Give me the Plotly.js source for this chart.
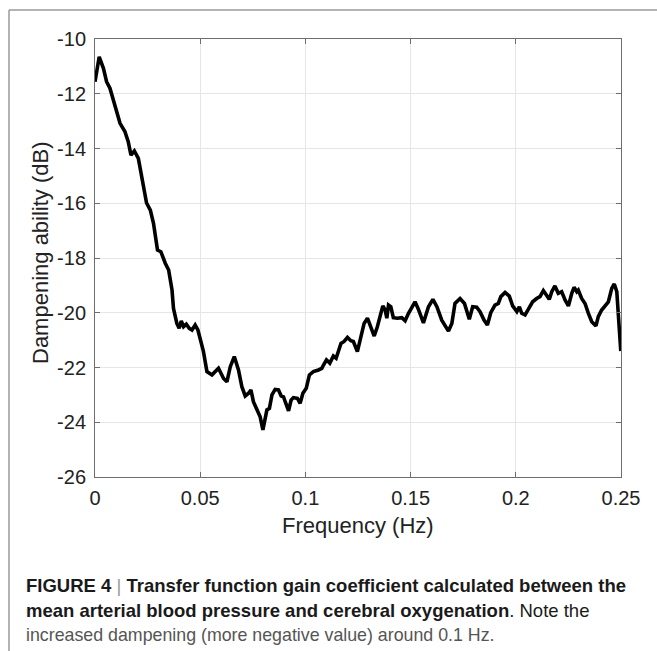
<!DOCTYPE html>
<html>
<head>
<meta charset="utf-8">
<script src="https://cdn.plot.ly/plotly-3.0.1.min.js"></script>
<style>html,body{margin:0;padding:0;background:#fff;}#chart{width:657px;height:651px;}</style>
</head>
<body>
<div id="chart"></div>
<script>
const freqHz = [0.000,0.002,0.004,0.0055,0.0071,0.0095,0.0119,0.0142,0.0158,0.0171,0.0187,0.0206,0.0221,0.0245,0.0263,0.0278,0.0297,0.0313,0.0334,0.0350,0.0366,0.0373,0.0389,0.0400,0.0410,0.0421,0.0434,0.0448,0.0461,0.0476,0.0489,0.0500,0.0515,0.0532,0.0556,0.0587,0.0611,0.0627,0.0643,0.0662,0.0682,0.0698,0.0714,0.0730,0.0741,0.0753,0.0769,0.0785,0.0798,0.0809,0.0817,0.0829,0.0841,0.0856,0.0872,0.0885,0.0896,0.0904,0.0920,0.0932,0.0943,0.0962,0.0975,0.0988,0.1004,0.1019,0.1038,0.1062,0.1078,0.1086,0.1100,0.1116,0.1133,0.1146,0.1157,0.1169,0.1184,0.1200,0.1216,0.1228,0.1247,0.1264,0.1279,0.1295,0.1311,0.1327,0.1342,0.1358,0.1368,0.1379,0.1387,0.1395,0.1406,0.1418,0.1437,0.1458,0.1474,0.1490,0.1506,0.1521,0.1537,0.1561,0.1585,0.1606,0.1625,0.1648,0.1680,0.1696,0.1711,0.1735,0.1756,0.1779,0.1795,0.1814,0.1830,0.1849,0.1865,0.1881,0.1901,0.1917,0.1929,0.1949,0.1969,0.1985,0.2005,0.2017,0.2028,0.2044,0.2060,0.2080,0.2099,0.2115,0.2131,0.2147,0.2159,0.2171,0.2186,0.2202,0.2218,0.2234,0.2250,0.2266,0.2277,0.2290,0.2297,0.2313,0.2329,0.2345,0.2361,0.2381,0.2392,0.2408,0.2429,0.2440,0.2456,0.2468,0.2480,0.2487,0.2499];
const gainDb = [-11.56,-10.65,-11.07,-11.56,-11.80,-12.41,-13.08,-13.38,-13.75,-14.24,-14.09,-14.36,-14.97,-15.99,-16.25,-16.73,-17.71,-17.77,-18.19,-18.44,-19.17,-19.84,-20.39,-20.57,-20.30,-20.51,-20.42,-20.57,-20.63,-20.45,-20.63,-20.93,-21.40,-22.15,-22.27,-22.03,-22.40,-22.52,-21.97,-21.60,-22.09,-22.70,-23.04,-22.94,-22.82,-23.25,-23.55,-23.80,-24.28,-23.86,-23.55,-23.49,-23.00,-22.80,-22.82,-23.04,-23.07,-23.25,-23.58,-23.19,-23.10,-23.13,-23.31,-22.94,-22.76,-22.27,-22.15,-22.09,-22.03,-21.91,-21.72,-21.84,-21.58,-21.66,-21.42,-21.12,-21.05,-20.90,-21.02,-21.05,-21.42,-20.93,-20.39,-20.20,-20.51,-20.85,-20.51,-20.02,-19.75,-19.90,-20.20,-19.72,-19.78,-20.18,-20.20,-20.18,-20.29,-20.02,-19.80,-19.60,-19.87,-20.37,-19.78,-19.51,-19.78,-20.27,-20.67,-20.39,-19.66,-19.48,-19.66,-20.24,-19.78,-19.80,-19.96,-20.27,-20.45,-20.00,-19.72,-19.66,-19.41,-19.26,-19.39,-19.75,-19.96,-19.78,-20.02,-20.08,-19.87,-19.60,-19.48,-19.41,-19.19,-19.35,-19.51,-19.23,-19.02,-19.29,-19.23,-19.53,-19.75,-19.29,-19.07,-19.23,-19.17,-19.48,-19.66,-20.02,-20.33,-20.48,-20.14,-19.90,-19.72,-19.60,-19.11,-18.95,-19.23,-19.90,-21.40];

const xTickVals = [0, 0.05, 0.1, 0.15, 0.2, 0.25];
const xTickText = ["0", "0.05", "0.1", "0.15", "0.2", "0.25"];
const yTickVals = [-26, -24, -22, -20, -18, -16, -14, -12, -10];
const yTickText = ["-26", "-24", "-22", "-20", "-18", "-16", "-14", "-12", "-10"];

const xTitle = "Frequency (Hz)";
const yTitle = "Dampening ability (dB)";
const caption1 = "<b>FIGURE 4</b> <span style='color:#9a9a9a'>|</span> <b>Transfer function gain coefficient calculated between the</b>";
const caption2 = "<b>mean arterial blood pressure and cerebral oxygenation</b>. Note the";
const caption3 = "increased dampening (more negative value) around 0.1 Hz.";

const FONT = "Liberation Sans, Arial, Helvetica, sans-serif";
const L = 95, R = 36, T = 39, B = 174;
const W = 657, H = 651;
const pw = W - L - R, ph = H - T - B;
const px = v => (v - L) / pw;
const py = v => (H - B - v) / ph;

const trace = {
  x: freqHz, y: gainDb, type: 'scatter', mode: 'lines',
  line: {color: '#000', width: 3.6, shape: 'linear'},
  hoverinfo: 'skip', showlegend: false
};

const axisCommon = {
  showline: true, linecolor: '#6e6e6e', linewidth: 1, mirror: 'ticks',
  ticks: 'inside', ticklen: 5, tickcolor: '#6e6e6e', tickwidth: 1,
  showgrid: true, gridcolor: '#e6e6e6', gridwidth: 1, zeroline: false,
  tickfont: {family: FONT, size: 20, color: '#222'}
};

const layout = {
  width: W, height: H,
  margin: {l: L, r: R, t: T, b: B, pad: 0},
  paper_bgcolor: '#fff', plot_bgcolor: '#fff',
  xaxis: Object.assign({}, axisCommon, {
    range: [0, 0.25], tickmode: 'array', tickvals: xTickVals, ticktext: xTickText,
    ticklabelstandoff: 3
  }),
  yaxis: Object.assign({}, axisCommon, {
    range: [-26, -10], tickmode: 'array', tickvals: yTickVals, ticktext: yTickText,
    ticklabelstandoff: 4
  }),
  shapes: [
    {type: 'line', xref: 'paper', yref: 'paper', x0: px(9), x1: px(660), y0: py(10), y1: py(10), line: {color: '#9a9a9a', width: 1.5}},
    {type: 'line', xref: 'paper', yref: 'paper', x0: px(9), x1: px(9), y0: py(10), y1: py(655), line: {color: '#9a9a9a', width: 1.5}}
  ],
  annotations: [
    {text: xTitle, xref: 'paper', yref: 'paper', x: 0.5, y: py(525), xanchor: 'center', yanchor: 'middle', showarrow: false, font: {family: FONT, size: 22, color: '#222'}},
    {text: yTitle, xref: 'paper', yref: 'paper', x: px(40), y: py(253), xanchor: 'center', yanchor: 'middle', textangle: -90, showarrow: false, font: {family: FONT, size: 22, color: '#222'}},
    {text: caption1, xref: 'paper', yref: 'paper', x: px(24), y: py(585), xanchor: 'left', yanchor: 'middle', showarrow: false, font: {family: FONT, size: 18.5, color: '#1a1a1a'}},
    {text: caption2, xref: 'paper', yref: 'paper', x: px(24), y: py(610), xanchor: 'left', yanchor: 'middle', showarrow: false, font: {family: FONT, size: 18.5, color: '#1a1a1a'}},
    {text: caption3, xref: 'paper', yref: 'paper', x: px(24), y: py(635), xanchor: 'left', yanchor: 'middle', showarrow: false, font: {family: FONT, size: 17.8, color: '#555'}}
  ]
};

Plotly.newPlot('chart', [trace], layout, {displayModeBar: false, staticPlot: true});
</script>
</body>
</html>
